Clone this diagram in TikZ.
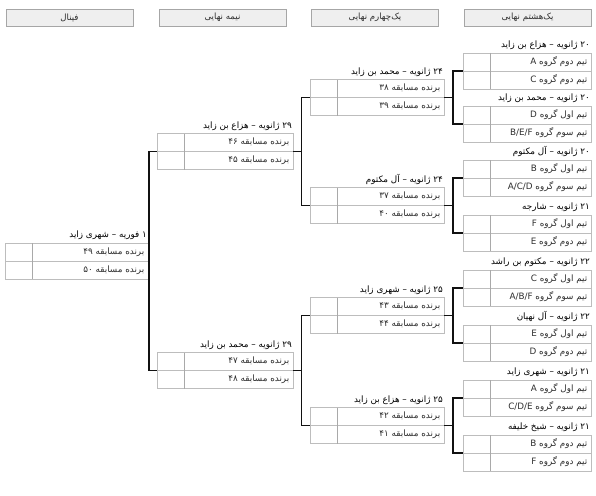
\documentclass[tikz,border=0pt]{standalone}
\usepackage{fontspec}
\usepackage{xcolor}
\usepackage{tikz}
\usetikzlibrary{positioning,calc}
\TeXXeTstate=1
\newfontfamily\persianfont[Script=Arabic]{DejaVu Sans}
\definecolor{bracketInk}{HTML}{111111}
\definecolor{cellLine}{HTML}{BDBDBD}
\definecolor{cellRule}{HTML}{A9A9A9}
\definecolor{headFill}{HTML}{EFEFEF}
\definecolor{headLine}{HTML}{A6A6A6}
\definecolor{labelInk}{HTML}{2E2E2E}
\tikzset{
  roundHead/.style={
    rectangle,
    draw=headLine,
    fill=headFill,
    line width=0.6pt,
    minimum width=127,
    minimum height=17,
    inner sep=0pt,
    outer sep=0pt,
    text=labelInk,
    font=\persianfont\fontsize{8.6}{10}\selectfont
  },
  scoreCell/.style={
    rectangle,
    draw=cellLine,
    fill=white,
    line width=0.6pt,
    minimum width=27,
    minimum height=18,
    inner sep=0pt,
    outer sep=0pt
  },
  teamCell/.style={
    rectangle,
    draw=cellLine,
    fill=white,
    line width=0.6pt,
    minimum height=18,
    inner sep=0pt,
    outer sep=0pt
  },
  teamText/.style={
    anchor=east,
    inner sep=0pt,
    text=labelInk,
    font=\persianfont\fontsize{8.8}{10}\selectfont
  },
  matchTitle/.style={
    anchor=south east,
    inner sep=0pt,
    text=black,
    font=\persianfont\fontsize{8.8}{10}\selectfont
  },
  wire/.style={
    line width=1.9pt,
    draw=bracketInk
  }
}
% name, left, top, team width, title, upper team, lower team
\newcommand{\matchbox}[7]{%
  \node[scoreCell,anchor=north west] (#1s1) at (#2,#3) {};
  \node[teamCell,anchor=north west,minimum width=#4] (#1t1) at (#1s1.north east) {};
  \node[scoreCell,anchor=north west] (#1s2) at (#1s1.south west) {};
  \node[teamCell,anchor=north west,minimum width=#4] (#1t2) at (#1t1.south west) {};
  \draw[cellRule,line width=0.6pt] (#1t1.north west) -- (#1t2.south west);
  \node[teamText] (#1n1) at ([xshift=-3.5pt]#1t1.east) {#6};
  \node[teamText] (#1n2) at ([xshift=-3.5pt]#1t2.east) {#7};
  \node[matchTitle] (#1title) at ([xshift=-1pt,yshift=3pt]#1t1.north east) {#5};
  \coordinate (#1in) at (#1s1.south west);
  \coordinate (#1out) at (#1t1.south east);
}

\begin{document}
\begin{tikzpicture}[x=1pt,y=-1pt]
  \useasboundingbox[fill=white] (0,0) rectangle (596,495);
  \node[roundHead] (headFinal) at (69.5,17.5) {\beginR فینال\endR};
  \node[roundHead] (headSemi) at (222.5,17.5) {\beginR نیمه نهایی\endR};
  \node[roundHead] (headQuarter) at (375,17.5) {\beginR یک‌چهارم نهایی\endR};
  \node[roundHead] (headSixteen) at (527.5,17.5) {\beginR یک‌هشتم نهایی\endR};

  \matchbox{r1}{463}{53}{101}{\beginR ۲۰ ژانویه – هزاع بن زاید\endR}{\beginR تیم دوم گروه \beginL A\endL\endR}{\beginR تیم دوم گروه \beginL C\endL\endR}
  \matchbox{r2}{463}{106}{101}{\beginR ۲۰ ژانویه – محمد بن زاید\endR}{\beginR تیم اول گروه \beginL D\endL\endR}{\beginR تیم سوم گروه \beginL B/E/F\endL\endR}
  \matchbox{r3}{463}{160}{101}{\beginR ۲۰ ژانویه – آل مکتوم\endR}{\beginR تیم اول گروه \beginL B\endL\endR}{\beginR تیم سوم گروه \beginL A/C/D\endL\endR}
  \matchbox{r4}{463}{215}{101}{\beginR ۲۱ ژانویه – شارجه\endR}{\beginR تیم اول گروه \beginL F\endL\endR}{\beginR تیم دوم گروه \beginL E\endL\endR}
  \matchbox{r5}{463}{270}{101}{\beginR ۲۲ ژانویه – مکتوم بن راشد\endR}{\beginR تیم اول گروه \beginL C\endL\endR}{\beginR تیم سوم گروه \beginL A/B/F\endL\endR}
  \matchbox{r6}{463}{325}{101}{\beginR ۲۲ ژانویه – آل نهیان\endR}{\beginR تیم اول گروه \beginL E\endL\endR}{\beginR تیم دوم گروه \beginL D\endL\endR}
  \matchbox{r7}{463}{380}{101}{\beginR ۲۱ ژانویه – شهری زاید\endR}{\beginR تیم اول گروه \beginL A\endL\endR}{\beginR تیم سوم گروه \beginL C/D/E\endL\endR}
  \matchbox{r8}{463}{435}{101}{\beginR ۲۱ ژانویه – شیخ خلیفه\endR}{\beginR تیم دوم گروه \beginL B\endL\endR}{\beginR تیم دوم گروه \beginL F\endL\endR}

  \matchbox{q1}{310}{79.5}{107}{\beginR ۲۴ ژانویه – محمد بن زاید\endR}{\beginR برنده مسابقه ۳۸\endR}{\beginR برنده مسابقه ۳۹\endR}
  \matchbox{q2}{310}{187.5}{107}{\beginR ۲۴ ژانویه – آل مکتوم\endR}{\beginR برنده مسابقه ۳۷\endR}{\beginR برنده مسابقه ۴۰\endR}
  \matchbox{q3}{310}{297.5}{107}{\beginR ۲۵ ژانویه – شهری زاید\endR}{\beginR برنده مسابقه ۴۳\endR}{\beginR برنده مسابقه ۴۴\endR}
  \matchbox{q4}{310}{407.5}{107}{\beginR ۲۵ ژانویه – هزاع بن زاید\endR}{\beginR برنده مسابقه ۴۲\endR}{\beginR برنده مسابقه ۴۱\endR}

  \matchbox{s1}{157}{133.5}{109}{\beginR ۲۹ ژانویه – هزاع بن زاید\endR}{\beginR برنده مسابقه ۴۶\endR}{\beginR برنده مسابقه ۴۵\endR}
  \matchbox{s2}{157}{352.5}{109}{\beginR ۲۹ ژانویه – محمد بن زاید\endR}{\beginR برنده مسابقه ۴۷\endR}{\beginR برنده مسابقه ۴۸\endR}

  \matchbox{fin}{5}{243}{116}{\beginR ۱ فوریه – شهری زاید\endR}{\beginR برنده مسابقه ۴۹\endR}{\beginR برنده مسابقه ۵۰\endR}

  \draw[wire] (r1in) -- ++(-10,0) coordinate (r1j) |- (r2in);
  \draw[wire] (q1out) -- (q1out -| r1j);
  \draw[wire] (r3in) -- ++(-10,0) coordinate (r3j) |- (r4in);
  \draw[wire] (q2out) -- (q2out -| r3j);
  \draw[wire] (r5in) -- ++(-10,0) coordinate (r5j) |- (r6in);
  \draw[wire] (q3out) -- (q3out -| r5j);
  \draw[wire] (r7in) -- ++(-10,0) coordinate (r7j) |- (r8in);
  \draw[wire] (q4out) -- (q4out -| r7j);
  \draw[wire] (q1in) -- ++(-8.5,0) coordinate (q1j) |- (q2in);
  \draw[wire] (s1out) -- (s1out -| q1j);
  \draw[wire] (q3in) -- ++(-8.5,0) coordinate (q3j) |- (q4in);
  \draw[wire] (s2out) -- (s2out -| q3j);
  \draw[wire] (s1in) -- ++(-8,0) coordinate (s1j) |- (s2in);
  \draw[wire] (finout) -- (finout -| s1j);
\end{tikzpicture}
\end{document}
